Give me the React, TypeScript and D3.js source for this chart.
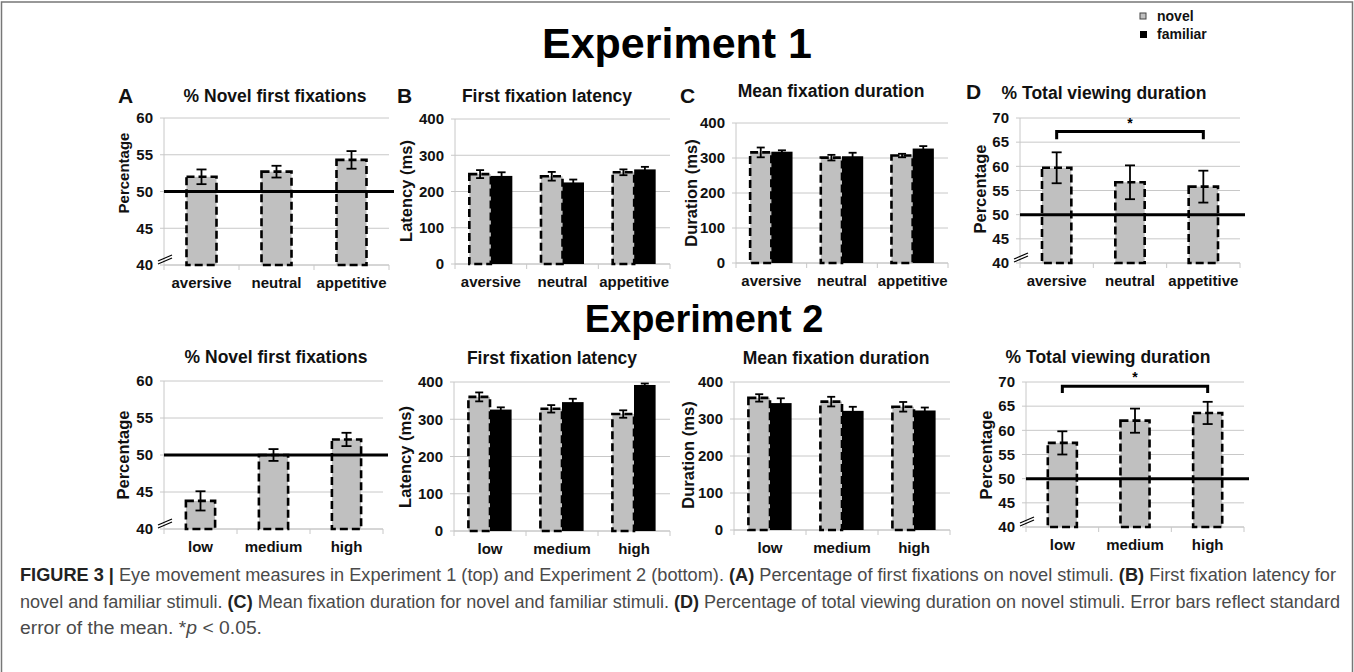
import React from 'react';
import * as d3 from 'd3';

// categories
const exp1Conditions = ['aversive', 'neutral', 'appetitive'];
const exp2Conditions = ['low', 'medium', 'high'];

// tick labels
const pctTicksShort = [40, 45, 50, 55, 60];
const pctTicksLong = [40, 45, 50, 55, 60, 65, 70];
const msTicks = [0, 100, 200, 300, 400];

// experiment 1 values
const exp1NovelFirst = [52.0, 52.7, 54.3];
const exp1NovelFirstErr = [1.0, 0.8, 1.2];
const exp1LatencyNovel = [248, 242, 253];
const exp1LatencyNovelErr = [11, 12, 8];
const exp1LatencyFamiliar = [243, 225, 261];
const exp1LatencyFamiliarErr = [10, 8, 7];
const exp1DurationNovel = [316, 301, 307];
const exp1DurationNovelErr = [14, 8, 5];
const exp1DurationFamiliar = [318, 305, 327];
const exp1DurationFamiliarErr = [4, 10, 7];
const exp1TotalView = [59.7, 56.7, 55.8];
const exp1TotalViewErr = [3.2, 3.5, 3.3];
const exp1Bracket = [67.2, 65.6];

// experiment 2 values
const exp2NovelFirst = [43.8, 50.0, 52.1];
const exp2NovelFirstErr = [1.3, 0.8, 0.9];
const exp2LatencyNovel = [360, 328, 314];
const exp2LatencyNovelErr = [12, 10, 10];
const exp2LatencyFamiliar = [326, 346, 392];
const exp2LatencyFamiliarErr = [6, 9, 4];
const exp2DurationNovel = [357, 347, 333];
const exp2DurationNovelErr = [10, 13, 13];
const exp2DurationFamiliar = [343, 322, 323];
const exp2DurationFamiliarErr = [13, 11, 8];
const exp2TotalView = [57.4, 62.0, 63.6];
const exp2TotalViewErr = [2.4, 2.5, 2.3];
const exp2Bracket = [69.1, 67.7];

const FONT = 'Liberation Sans, Arial, Helvetica, sans-serif';
const NARROW = 'Liberation Sans Narrow, Arial Narrow, Liberation Sans, Arial, sans-serif';
const GRID = '#c8c8c8';
const NOVEL_FILL = '#c0c0c0';

type Panel = {
  x0: number; x1: number; yTop: number; yBot: number;
  domain: [number, number]; ticks: number[]; categories: string[];
  novel: number[]; novelErr: number[];
  familiar?: number[]; familiarErr?: number[];
  refLine?: number; broken?: boolean; bracket?: number[];
  title: string; titleX: number; titleY: number;
  letter?: string; letterX?: number; letterY?: number;
  ylabel: string; ylabX: number; ylabY: number; ylabSize: number;
};

const panels: Panel[] = [
  // Experiment 1
  { x0: 164, x1: 389, yTop: 118, yBot: 265, domain: [40, 60], ticks: pctTicksShort, categories: exp1Conditions,
    novel: exp1NovelFirst, novelErr: exp1NovelFirstErr, refLine: 50, broken: true,
    title: '% Novel first fixations', titleX: 275, titleY: 102, letter: 'A', letterX: 118, letterY: 103,
    ylabel: 'Percentage', ylabX: 124, ylabY: 173, ylabSize: 15 },
  { x0: 455, x1: 670, yTop: 119, yBot: 264, domain: [0, 400], ticks: msTicks, categories: exp1Conditions,
    novel: exp1LatencyNovel, novelErr: exp1LatencyNovelErr, familiar: exp1LatencyFamiliar, familiarErr: exp1LatencyFamiliarErr,
    title: 'First fixation latency', titleX: 547, titleY: 102, letter: 'B', letterX: 397, letterY: 103,
    ylabel: 'Latency (ms)', ylabX: 406, ylabY: 191, ylabSize: 16.5 },
  { x0: 736, x1: 948, yTop: 123, yBot: 263, domain: [0, 400], ticks: msTicks, categories: exp1Conditions,
    novel: exp1DurationNovel, novelErr: exp1DurationNovelErr, familiar: exp1DurationFamiliar, familiarErr: exp1DurationFamiliarErr,
    title: 'Mean fixation duration', titleX: 831, titleY: 97, letter: 'C', letterX: 680, letterY: 103,
    ylabel: 'Duration (ms)', ylabX: 691, ylabY: 193, ylabSize: 16.5 },
  { x0: 1020, x1: 1240, yTop: 118, yBot: 263, domain: [40, 70], ticks: pctTicksLong, categories: exp1Conditions,
    novel: exp1TotalView, novelErr: exp1TotalViewErr, refLine: 50, broken: true, bracket: exp1Bracket,
    title: '% Total viewing duration', titleX: 1104, titleY: 99, letter: 'D', letterX: 966, letterY: 99,
    ylabel: 'Percentage', ylabX: 980, ylabY: 189, ylabSize: 16.5 },
  // Experiment 2
  { x0: 164, x1: 383, yTop: 381, yBot: 529, domain: [40, 60], ticks: pctTicksShort, categories: exp2Conditions,
    novel: exp2NovelFirst, novelErr: exp2NovelFirstErr, refLine: 50, broken: true,
    title: '% Novel first fixations', titleX: 276, titleY: 363,
    ylabel: 'Percentage', ylabX: 123, ylabY: 455, ylabSize: 16.5 },
  { x0: 454, x1: 670, yTop: 382, yBot: 531, domain: [0, 400], ticks: msTicks, categories: exp2Conditions,
    novel: exp2LatencyNovel, novelErr: exp2LatencyNovelErr, familiar: exp2LatencyFamiliar, familiarErr: exp2LatencyFamiliarErr,
    title: 'First fixation latency', titleX: 552, titleY: 364,
    ylabel: 'Latency (ms)', ylabX: 405, ylabY: 457, ylabSize: 16.5 },
  { x0: 734, x1: 950, yTop: 382, yBot: 530, domain: [0, 400], ticks: msTicks, categories: exp2Conditions,
    novel: exp2DurationNovel, novelErr: exp2DurationNovelErr, familiar: exp2DurationFamiliar, familiarErr: exp2DurationFamiliarErr,
    title: 'Mean fixation duration', titleX: 836, titleY: 364,
    ylabel: 'Duration (ms)', ylabX: 688, ylabY: 455, ylabSize: 16.5 },
  { x0: 1026, x1: 1244, yTop: 382, yBot: 527, domain: [40, 70], ticks: pctTicksLong, categories: exp2Conditions,
    novel: exp2TotalView, novelErr: exp2TotalViewErr, refLine: 50, broken: true, bracket: exp2Bracket,
    title: '% Total viewing duration', titleX: 1108, titleY: 363,
    ylabel: 'Percentage', ylabX: 986, ylabY: 455, ylabSize: 16.5 },
];

function ErrorBar({ x, y, lo, hi, cap }: { x: number; y: (v: number) => number; lo: number; hi: number; cap: number }) {
  return (
    <g stroke="#000" strokeWidth={1.8}>
      <line x1={x} x2={x} y1={y(lo)} y2={y(hi)} />
      <line x1={x - cap} x2={x + cap} y1={y(hi)} y2={y(hi)} />
      <line x1={x - cap} x2={x + cap} y1={y(lo)} y2={y(lo)} />
    </g>
  );
}

function PanelChart({ p }: { p: Panel }) {
  const y = d3.scaleLinear().domain(p.domain).range([p.yBot, p.yTop]);
  const paired = !!p.familiar;
  const x = d3
    .scaleBand<string>()
    .domain(p.categories)
    .range([p.x0, p.x1])
    .paddingInner(paired ? 0.4 : 0.6)
    .paddingOuter(paired ? 0.2 : 0.3);
  const sub = d3.scaleBand<string>().domain(['novel', 'familiar']).range([0, x.bandwidth()]);
  const step = x.step();
  const base = p.domain[0];
  const cx = (c: string) => (x(c) as number) + x.bandwidth() / 2;

  return (
    <g fontFamily={FONT} fontWeight="bold">
      {/* grid + y ticks */}
      {p.ticks.map((t) => (
        <g key={t}>
          <line x1={p.x0 - 4} x2={p.x1} y1={y(t)} y2={y(t)} stroke={GRID} strokeWidth={1} />
          <text x={p.x0 - 11} y={y(t)} dy="0.35em" textAnchor="end" fontSize={15} fill="#111">
            {t}
          </text>
        </g>
      ))}
      <line x1={p.x0} x2={p.x0} y1={p.yTop} y2={p.yBot} stroke={GRID} />
      <line x1={p.x0} x2={p.x1} y1={p.yBot} y2={p.yBot} stroke={GRID} />
      {d3.range(p.categories.length + 1).map((i) => (
        <line key={i} x1={p.x0 + i * step} x2={p.x0 + i * step} y1={p.yBot} y2={p.yBot + 5} stroke={GRID} />
      ))}
      {/* bars */}
      {p.categories.map((c, i) => {
        const bx = x(c) as number;
        const bw = paired ? sub.bandwidth() : x.bandwidth();
        const nx = paired ? bx + (sub('novel') as number) : bx;
        return (
          <g key={c}>
            <rect
              x={nx}
              y={y(p.novel[i])}
              width={bw}
              height={y(base) - y(p.novel[i])}
              fill={NOVEL_FILL}
              stroke="#000"
              strokeWidth={2.6}
              strokeDasharray="8 4"
            />
            {paired && p.familiar && (
              <rect
                x={bx + (sub('familiar') as number)}
                y={y(p.familiar[i])}
                width={bw}
                height={y(base) - y(p.familiar[i])}
                fill="#000"
              />
            )}
          </g>
        );
      })}
      {p.refLine !== undefined && (
        <line x1={p.x0} x2={p.x1 + 5} y1={y(p.refLine)} y2={y(p.refLine)} stroke="#000" strokeWidth={3} />
      )}
      {/* error bars */}
      {p.categories.map((c, i) => {
        const bx = x(c) as number;
        const nxc = paired ? bx + (sub('novel') as number) + sub.bandwidth() / 2 : cx(c);
        return (
          <g key={c}>
            <ErrorBar x={nxc} y={y} lo={p.novel[i] - p.novelErr[i]} hi={p.novel[i] + p.novelErr[i]} cap={paired ? 4 : 5} />
            {paired && p.familiar && p.familiarErr && (
              <ErrorBar
                x={bx + (sub('familiar') as number) + sub.bandwidth() / 2}
                y={y}
                lo={p.familiar[i] - p.familiarErr[i]}
                hi={p.familiar[i] + p.familiarErr[i]}
                cap={4}
              />
            )}
          </g>
        );
      })}
      {p.broken && (
        <g stroke="#000" strokeWidth={1.2}>
          <line x1={p.x0 - 6} x2={p.x0 + 8} y1={p.yBot - 4} y2={p.yBot - 10} />
          <line x1={p.x0 - 6} x2={p.x0 + 8} y1={p.yBot - 1} y2={p.yBot - 7} />
        </g>
      )}
      {p.bracket && (
        <g>
          <path
            d={`M${cx(p.categories[0])},${y(p.bracket[1])}V${y(p.bracket[0])}H${cx(p.categories[2])}V${y(p.bracket[1])}`}
            fill="none"
            stroke="#000"
            strokeWidth={3}
          />
          <text x={(cx(p.categories[0]) + cx(p.categories[2])) / 2} y={y(p.bracket[0]) - 4} textAnchor="middle" fontSize={14}>
            *
          </text>
        </g>
      )}
      {/* x labels */}
      {p.categories.map((c) => (
        <text key={c} x={cx(c)} y={p.yBot + 23} textAnchor="middle" fontSize={15} fill="#111">
          {c}
        </text>
      ))}
      <text x={p.titleX} y={p.titleY} textAnchor="middle" fontSize={17.5} fill="#111">
        {p.title}
      </text>
      {p.letter && (
        <text x={p.letterX} y={p.letterY} fontSize={21} fill="#111">
          {p.letter}
        </text>
      )}
      <text
        transform={`translate(${p.ylabX},${p.ylabY}) rotate(-90)`}
        dy="0.35em"
        textAnchor="middle"
        fontSize={p.ylabSize}
        fill="#111"
      >
        {p.ylabel}
      </text>
    </g>
  );
}

export default function App() {
  return (
    <svg width={1354} height={672} style={{ position: 'absolute', left: 0, top: 0, background: '#fff' }}>
      <rect x={0} y={0} width={1354} height={672} fill="#fff" />
      <rect x={1.5} y={2} width={1351} height={690} fill="none" stroke="#777" strokeWidth={1.5} />

      <text x={677} y={58} textAnchor="middle" fontFamily={FONT} fontWeight="bold" fontSize={43} fill="#000">
        Experiment 1
      </text>
      <text x={704} y={332} textAnchor="middle" fontFamily={FONT} fontWeight="bold" fontSize={38} fill="#000">
        Experiment 2
      </text>

      {/* legend */}
      <g fontFamily={FONT} fontWeight="bold" fontSize={14} fill="#111">
        <rect x={1140} y={13} width={6} height={6} fill={NOVEL_FILL} stroke="#444" strokeWidth={1} />
        <text x={1157} y={21}>novel</text>
        <rect x={1140} y={31} width={7} height={7} fill="#000" />
        <text x={1157} y={39}>familiar</text>
      </g>

      {panels.map((p, i) => (
        <PanelChart key={i} p={p} />
      ))}

      {/* caption */}
      <g fontFamily={NARROW} fontSize={17.5} fill="#4a4a4a">
        <text x={20} y={581} textLength={1316} lengthAdjust="spacingAndGlyphs">
          <tspan fontWeight="bold" fill="#222">FIGURE 3 | </tspan>
          Eye movement measures in Experiment 1 (top) and Experiment 2 (bottom).{' '}
          <tspan fontWeight="bold" fill="#222">(A)</tspan> Percentage of first fixations on novel stimuli.{' '}
          <tspan fontWeight="bold" fill="#222">(B)</tspan> First fixation latency for
        </text>
        <text x={20} y={608} textLength={1320} lengthAdjust="spacingAndGlyphs">
          novel and familiar stimuli. <tspan fontWeight="bold" fill="#222">(C)</tspan> Mean fixation duration for novel and
          familiar stimuli. <tspan fontWeight="bold" fill="#222">(D)</tspan> Percentage of total viewing duration on novel
          stimuli. Error bars reflect standard
        </text>
        <text x={20} y={634} textLength={242} lengthAdjust="spacingAndGlyphs">
          error of the mean. *<tspan fontStyle="italic">p</tspan> {'<'} 0.05.
        </text>
      </g>
    </svg>
  );
}
